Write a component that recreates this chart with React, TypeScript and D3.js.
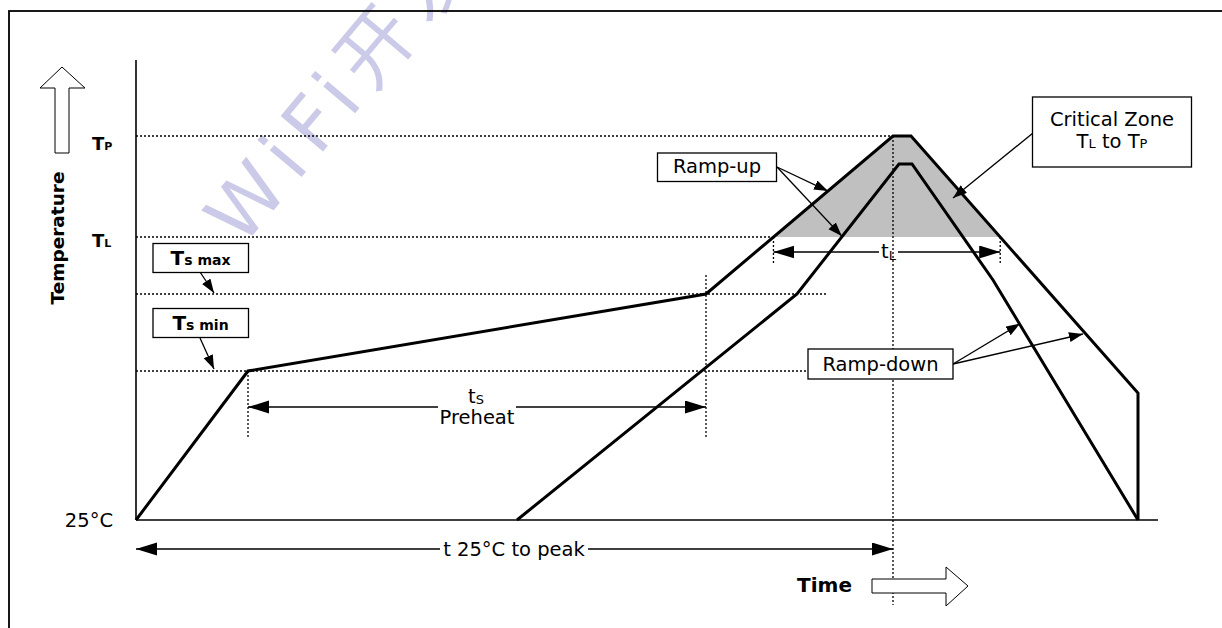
import * as d3 from 'd3';

// Reflow profile schematic. Units are relative (time / temperature steps of the sketch).
const timeDomain = [0, 1022];
const tempDomain = [0, 460];

// temperature levels
const levelNames = ['25°C', 'Ts min', 'Ts max', 'TL', 'TP'];
const levelValues = [0, 149, 226, 283, 384];
const [T_AMB, T_SMIN, T_SMAX, T_L, T_P] = levelValues;

// upper (max) profile and lower (min) profile as [time, temperature]
const upperProfile: [number, number][] = [
  [0, 0],
  [112, 149],
  [570, 226],
  [757, 384],
  [775, 384],
  [1002, 127],
  [1002, 0],
];
const lowerProfile: [number, number][] = [
  [381, 0],
  [661, 226],
  [763, 356],
  [776, 356],
  [857, 240],
  [1002, 0],
];

// interpolate temperature of a profile at time t
const tempAt = (pts: [number, number][], t: number) => {
  for (let i = 1; i < pts.length; i++) {
    const [t0, v0] = pts[i - 1];
    const [t1, v1] = pts[i];
    if (t >= t0 && t <= t1 && t1 > t0) return v0 + ((t - t0) / (t1 - t0)) * (v1 - v0);
  }
  return 0;
};
// times where a profile crosses a level
const crossings = (pts: [number, number][], level: number) => {
  const out: number[] = [];
  for (let i = 1; i < pts.length; i++) {
    const [t0, v0] = pts[i - 1];
    const [t1, v1] = pts[i];
    if ((v0 - level) * (v1 - level) < 0) out.push(t0 + ((level - v0) / (v1 - v0)) * (t1 - t0));
  }
  return out;
};

const FONT = '"DejaVu Sans", Verdana, sans-serif';

const App = () => {
  const x = d3.scaleLinear().domain(timeDomain).range([136, 1158]);
  const y = d3.scaleLinear().domain(tempDomain).range([520, 60]);
  const line = d3
    .line<[number, number]>()
    .x(d => x(d[0]))
    .y(d => y(d[1]));
  const zone = d3
    .area<[number, number]>()
    .x(d => x(d[0]))
    .y0(y(T_L))
    .y1(d => y(d[1]));

  const tSmin = upperProfile[1][0];
  const tSmax = upperProfile[2][0];
  const tPeak = upperProfile[3][0];
  const [tL1, tL2] = crossings(upperProfile, T_L);
  const [tLowL] = crossings(lowerProfile, T_L);

  const dotted = { stroke: '#000', strokeWidth: 1.3, strokeDasharray: '2,2', fill: 'none' };
  const thin = { stroke: '#000', strokeWidth: 1.3, fill: 'none' };

  const leaders: [number, number, number, number][] = [
    [200, 272, 214, y(T_SMAX) - 1],
    [200, 338, 214, y(T_SMIN) - 2],
    [777, 167, x(693) - 1, y(tempAt(upperProfile, 693)) + 1],
    [777, 167, x(tLowL), y(T_L) - 1],
    [1033, 133, 953, 198],
    [953, 364, x(884), y(tempAt(lowerProfile, 884)) - 1],
    [953, 364, x(949) - 2, y(tempAt(upperProfile, 949)) + 1],
  ];

  const box = (x0: number, y0: number, w: number, h: number) => (
    <rect x={x0} y={y0} width={w} height={h} fill="#fff" stroke="#000" strokeWidth={1.3} />
  );

  return (
    <div style={{ position: 'absolute', left: 0, top: 0 }}>
      <svg width={1222} height={628} style={{ display: 'block', fontFamily: FONT }}>
        <defs>
          <marker id="dim" markerUnits="userSpaceOnUse" markerWidth={22} markerHeight={14} refX={21} refY={6.5} orient="auto-start-reverse">
            <path d="M0,0 L21,6.5 L0,13 Z" fill="#000" />
          </marker>
          <marker id="lead" markerUnits="userSpaceOnUse" markerWidth={15} markerHeight={11} refX={14} refY={5} orient="auto">
            <path d="M0,0 L14,5 L0,10 Z" fill="#000" />
          </marker>
          <clipPath id="aboveTL">
            <rect x={0} y={0} width={1222} height={y(T_L)} />
          </clipPath>
        </defs>

        {/* watermark */}
        <text
          transform="translate(242,248) rotate(-50)"
          fontSize={76}
          fill="#cbcbe9"
          letterSpacing={12}
          fontFamily={'"DejaVu Sans", "Noto Sans CJK SC"'}
        >
          WiFi开发 QQ
        </text>

        {/* frame */}
        <rect x={9} y={11} width={1300} height={700} fill="none" stroke="#000" strokeWidth={1.8} />

        {/* critical zone */}
        <path d={zone(upperProfile.slice(2, 6)) ?? ''} fill="#c0c0c0" clipPath="url(#aboveTL)" />

        {/* level lines */}
        <line x1={x(0)} x2={x(tPeak)} y1={y(T_P)} y2={y(T_P)} {...dotted} />
        <line x1={x(0)} x2={x(tL1)} y1={y(T_L)} y2={y(T_L)} {...dotted} />
        <line x1={x(0)} x2={x(690)} y1={y(T_SMAX)} y2={y(T_SMAX)} {...dotted} />
        <line x1={x(0)} x2={808} y1={y(T_SMIN)} y2={y(T_SMIN)} {...dotted} />

        {/* vertical markers */}
        <line x1={x(tSmin)} x2={x(tSmin)} y1={y(T_SMIN)} y2={437} {...dotted} />
        <line x1={x(tSmax)} x2={x(tSmax)} y1={275} y2={437} {...dotted} />
        <line x1={x(tPeak)} x2={x(tPeak)} y1={y(T_P)} y2={605} {...dotted} />
        <line x1={x(tL1)} x2={x(tL1)} y1={y(T_L)} y2={264} {...dotted} />
        <line x1={x(tL2)} x2={x(tL2)} y1={y(T_L)} y2={264} {...dotted} />

        {/* axes */}
        <line x1={x(0)} x2={x(0)} y1={y(tempDomain[1])} y2={y(T_AMB)} stroke="#000" strokeWidth={1.6} />
        <line x1={x(0)} x2={x(timeDomain[1])} y1={y(T_AMB)} y2={y(T_AMB)} stroke="#000" strokeWidth={1.6} />

        {/* profiles */}
        <path d={line(upperProfile) ?? ''} fill="none" stroke="#000" strokeWidth={3} strokeLinejoin="miter" />
        <path d={line(lowerProfile) ?? ''} fill="none" stroke="#000" strokeWidth={3} strokeLinejoin="miter" />

        {/* dimension arrows */}
        <line x1={x(tSmin)} x2={438} y1={407} y2={407} {...thin} strokeWidth={1.6} markerStart="url(#dim)" />
        <line x1={516} x2={x(tSmax)} y1={407} y2={407} {...thin} strokeWidth={1.6} markerEnd="url(#dim)" />
        <line x1={x(tL1)} x2={879} y1={252} y2={252} {...thin} strokeWidth={1.6} markerStart="url(#dim)" />
        <line x1={898} x2={x(tL2)} y1={252} y2={252} {...thin} strokeWidth={1.6} markerEnd="url(#dim)" />
        <line x1={x(0)} x2={440} y1={549} y2={549} {...thin} strokeWidth={1.6} markerStart="url(#dim)" />
        <line x1={588} x2={x(tPeak)} y1={549} y2={549} {...thin} strokeWidth={1.6} markerEnd="url(#dim)" />

        <text x={468} y={403} fontSize={19.5}>
          t<tspan fontSize={13} dy={1}>S</tspan>
        </text>
        <text x={477} y={424} fontSize={19.5} textAnchor="middle">Preheat</text>
        <text x={881} y={258} fontSize={19.5}>
          t<tspan fontSize={13} dy={2}>L</tspan>
        </text>
        <text x={514} y={556} fontSize={19.5} textAnchor="middle">t 25°C to peak</text>

        {/* leader arrows */}
        {leaders.map(([x1, y1, x2, y2], i) => (
          <line key={i} x1={x1} y1={y1} x2={x2} y2={y2} {...thin} markerEnd="url(#lead)" />
        ))}

        {/* boxes */}
        {box(153, 243.5, 95.5, 29)}
        <text x={200.5} y={265} textAnchor="middle" fontWeight="bold" fontSize={20}>
          T<tspan fontSize={14}>s max</tspan>
        </text>
        {box(153, 308.5, 95.5, 29)}
        <text x={200.5} y={330} textAnchor="middle" fontWeight="bold" fontSize={20}>
          T<tspan fontSize={14}>s min</tspan>
        </text>
        {box(657.5, 153, 119, 28.5)}
        <text x={717} y={173} textAnchor="middle" fontSize={19.5}>Ramp-up</text>
        {box(808, 349, 145, 30)}
        <text x={880.5} y={370.5} textAnchor="middle" fontSize={19.5}>Ramp-down</text>
        {box(1032.5, 97, 159, 70)}
        <text x={1112} y={126} textAnchor="middle" fontSize={19.5}>Critical Zone</text>
        <text x={1112} y={148} textAnchor="middle" fontSize={19.5}>
          T<tspan fontSize={13}>L</tspan> to T<tspan fontSize={13}>P</tspan>
        </text>

        {/* level labels */}
        <text x={92} y={150} fontWeight="bold" fontSize={18}>
          T<tspan fontSize={11}>P</tspan>
        </text>
        <text x={92} y={247} fontWeight="bold" fontSize={18}>
          T<tspan fontSize={11}>L</tspan>
        </text>
        <text x={113} y={527} textAnchor="end" fontSize={19.5}>{levelNames[0]}</text>

        {/* axis titles with block arrows */}
        <polygon points="55,153 55,88 40,88 62,67 85,88 69,88 69,153" fill="#fff" stroke="#000" strokeWidth={1} />
        <text transform="translate(64,238) rotate(-90)" textAnchor="middle" fontWeight="bold" fontSize={18.5}>
          Temperature
        </text>
        <polygon points="872,579 946,579 946,567 968,586 946,606 946,593 872,593" fill="#fff" stroke="#000" strokeWidth={1} />
        <text x={852} y={592} textAnchor="end" fontWeight="bold" fontSize={20}>Time</text>
      </svg>
    </div>
  );
};

export default App;
